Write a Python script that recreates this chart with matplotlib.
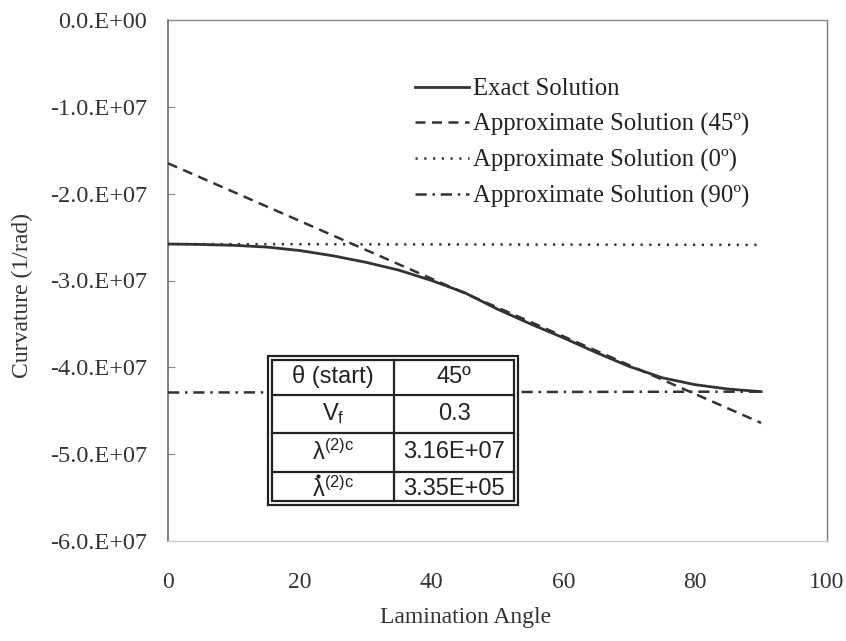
import numpy as np
import matplotlib
matplotlib.use("Agg")
import matplotlib.pyplot as plt
from matplotlib.patches import Rectangle
from matplotlib.lines import Line2D

plt.rcParams['font.family'] = ['Liberation Serif', 'DejaVu Serif']
plt.rcParams['mathtext.fontset'] = 'custom'
plt.rcParams['mathtext.rm'] = 'Liberation Sans'
plt.rcParams['mathtext.it'] = 'Liberation Sans:italic'
plt.rcParams['mathtext.default'] = 'regular'

## data (curvature in units of 1e7 1/rad)
angle = [0, 5, 10, 15, 20, 25, 30, 35, 40, 45, 50, 55, 60, 65, 70, 75, 80, 85, 90]
exact = [-2.58, -2.585, -2.595, -2.615, -2.655, -2.715, -2.79, -2.88, -3.00, -3.14,
         -3.33, -3.50, -3.66, -3.83, -3.99, -4.12, -4.20, -4.25, -4.28]
approx45_x = [0, 90]
approx45 = [-1.65, -4.64]
approx0_x = [0, 90]
approx0 = [-2.58, -2.59]
approx90_x = [0, 90]
approx90 = [-4.29, -4.28]

labels = ['Exact Solution', 'Approximate Solution (45º)',
          'Approximate Solution (0º)', 'Approximate Solution (90º)']

xticks = [0, 20, 40, 60, 80, 100]
yticks = [0, -1, -2, -3, -4, -5, -6]
ytick_labels = ['0.0.E+00', '-1.0.E+07', '-2.0.E+07', '-3.0.E+07',
                '-4.0.E+07', '-5.0.E+07', '-6.0.E+07']

table_keys = ['θ (start)', r'V$_f$', r'$\lambda^{(2)c}$', r'$\lambda^{(2)c}$']
table_vals = ['45º', '0.3', '3.16E+07', '3.35E+05']

W, H = 846, 641
def fx(x): return x / W
def fy(y): return 1 - y / H

fig = plt.figure(figsize=(W / 100, H / 100), dpi=100)
ax = fig.add_axes([fx(168), fy(541), (827 - 168) / W, (541 - 20) / H])

lc = '#333333'
ax.plot(angle, exact, color=lc, lw=2.0, label=labels[0], zorder=4)
ax.plot(approx45_x, approx45, color=lc, lw=1.8, dashes=(4.0, 2.6), label=labels[1], zorder=3)
ax.plot(approx0_x, approx0, color=lc, lw=1.8, dashes=(0.9, 2.6), label=labels[2], zorder=3)
ax.plot(approx90_x, approx90, color=lc, lw=1.8, dashes=(4.5, 2.3, 1.0, 2.3), label=labels[3], zorder=3)

ax.set_xlim(0, 100)
ax.set_ylim(-6, 0)
ax.set_xticks(xticks)
ax.set_xticklabels([str(t) for t in xticks])
ax.set_yticks(yticks)
ax.set_yticklabels(ytick_labels)
ax.tick_params(axis='y', direction='in', length=5, width=0.8, color='#888888',
               pad=15, labelsize=17.5, labelcolor='#333333')
ax.tick_params(axis='x', length=0, pad=22, labelsize=17, labelcolor='#333333')

ax.spines['left'].set_color('#666666')
ax.spines['left'].set_linewidth(1.2)
ax.spines['top'].set_color('#8a8a8a')
ax.spines['right'].set_color('#777777')
ax.spines['bottom'].set_color('#cccccc')
for s in ['top', 'right', 'bottom']:
    ax.spines[s].set_linewidth(1.0)

leg = ax.legend(loc='upper left', bbox_to_anchor=(fx(415), fy(78)),
                bbox_transform=fig.transFigure, frameon=False, fontsize=17.8,
                handlelength=2.2, handletextpad=0.15, labelspacing=0.52,
                borderpad=0, borderaxespad=0)
for t in leg.get_texts():
    t.set_color('#222222')

fig.text(fx(22), fy(295), 'Curvature (1/rad)', rotation=90, ha='center', va='center',
         fontsize=17, color='#333333')
fig.text(fx(466), fy(618), 'Lamination Angle', ha='center', va='center',
         fontsize=17, color='#333333')

## parameter table drawn in pixel positions
tc = '#222222'
fig.patches.append(Rectangle((fx(268), fy(505)), (518 - 268) / W, (505 - 356) / H,
                             transform=fig.transFigure, facecolor='white',
                             edgecolor=tc, lw=1.6, zorder=5))
fig.patches.append(Rectangle((fx(272), fy(501)), (514 - 272) / W, (501 - 360) / H,
                             transform=fig.transFigure, facecolor='none',
                             edgecolor=tc, lw=1.6, zorder=6))
fig.add_artist(Line2D([fx(394), fx(394)], [fy(360), fy(501)], color=tc, lw=1.6, zorder=6))
for yy in [395, 433, 472]:
    fig.add_artist(Line2D([fx(272), fx(514)], [fy(yy), fy(yy)], color=tc, lw=1.6, zorder=6))

row_y = [377, 414, 452, 489]
for key, val, yy in zip(table_keys, table_vals, row_y):
    fig.text(fx(333), fy(yy), key, ha='center', va='center', fontsize=17,
             family='Liberation Sans', color='#222222', zorder=7)
    fig.text(fx(454), fy(yy), val, ha='center', va='center', fontsize=17,
             family='Liberation Sans', color='#222222', zorder=7)
# dot over the lambda of the rate row
fig.add_artist(Line2D([fx(318)], [fy(476)], marker='o', markersize=2.0,
                      color='#222222', lw=0, zorder=7))

fig.savefig('out.png', dpi=100)
